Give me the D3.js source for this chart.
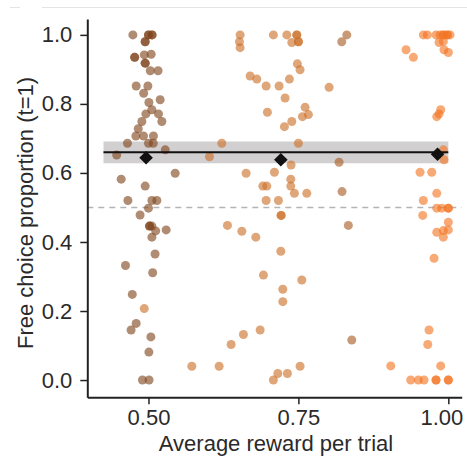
<!DOCTYPE html>
<html><head><meta charset="utf-8">
<script src="https://cdn.jsdelivr.net/npm/d3@7"></script>
<style>
html,body{margin:0;padding:0;background:#fff;}
svg{display:block;}
text{font-family:"Liberation Sans",Arial,Helvetica,sans-serif;}
</style></head>
<body>
<svg id="chart" width="467" height="457"></svg>
<script>
// ---- data ----
const xTicks = [0.50, 0.75, 1.00];
const yTicks = [0.0, 0.2, 0.4, 0.6, 0.8, 1.0];
const xLabel = "Average reward per trial";
const yLabel = "Free choice proportion (t=1)";

// brown points (around 0.50)
const brownX = [0.474,0.500,0.500,0.506,0.506,0.4945,0.4945,0.477,0.477,0.493,0.5045,0.4945,0.4945,0.503,0.516,0.4795,0.499,0.492,0.5195,0.5007,0.5057,0.4957,0.5167,0.489,0.5223,0.483,0.479,0.4917,0.5083,0.465,0.500,0.508,0.447,0.528,0.4545,0.4945,0.5445,0.4657,0.5057,0.514,0.500,0.486,0.5017,0.5017,0.5057,0.512,0.5295,0.5057,0.511,0.4617,0.507,0.473,0.4795,0.471,0.504,0.5007,0.490,0.501];
const brownY = [1.0,1.0,1.0,1.0,1.0,0.98,0.98,0.935,0.935,0.942,0.944,0.918,0.918,0.896,0.896,0.852,0.852,0.831,0.812,0.804,0.783,0.771,0.771,0.749,0.749,0.728,0.707,0.707,0.707,0.686,0.686,0.686,0.652,0.667,0.582,0.562,0.599,0.52,0.52,0.52,0.498,0.478,0.446,0.446,0.446,0.432,0.435,0.414,0.365,0.332,0.311,0.248,0.164,0.145,0.125,0.081,0.0,0.0];

// tan-orange points (mostly around 0.72)
const tanX = [0.6528,0.6517,0.6528,0.7083,0.7307,0.739,0.7473,0.7473,0.75,0.75,0.7483,0.7528,0.6695,0.6807,0.6962,0.7178,0.735,0.8012,0.7278,0.7612,0.7667,0.7567,0.6983,0.739,0.7267,0.6223,0.75,0.6017,0.7378,0.6628,0.71,0.7373,0.6907,0.6973,0.7373,0.7433,0.764,0.6962,0.7167,0.7212,0.7212,0.6317,0.6557,0.679,0.7207,0.6917,0.7557,0.724,0.724,0.6862,0.6583,0.6378,0.5723,0.6178,0.7528,0.7157,0.7317,0.7083,0.493];
const tanY = [1.0,0.98,0.963,1.0,1.0,0.978,1.0,1.0,0.98,0.98,0.916,0.899,0.881,0.872,0.852,0.852,0.872,0.848,0.817,0.79,0.769,0.763,0.776,0.749,0.734,0.686,0.686,0.647,0.623,0.599,0.602,0.582,0.562,0.562,0.562,0.541,0.541,0.52,0.52,0.477,0.477,0.448,0.431,0.414,0.373,0.304,0.29,0.263,0.227,0.145,0.132,0.103,0.04,0.04,0.04,0.019,0.019,0.0,0.207];

// brownish-orange points (around 0.82-0.84)
const rustX = [0.8307,0.8223,0.8178,0.8228,0.8333,0.839];
const rustY = [1.0,0.98,0.631,0.546,0.448,0.116];

// orange points (around 0.98)
const orangeX = [0.9583,0.965,0.9795,0.9862,0.9917,0.9917,0.9983,0.9983,1.0028,0.9845,0.9917,0.9295,0.9417,0.9928,1.0,0.9873,0.9845,0.9807,0.9917,0.9928,0.9528,0.9723,0.9807,0.9583,0.9807,0.989,1.0,1.0,0.9573,1.0,0.9807,0.9917,1.0,0.9917,0.9762,0.9678,0.9657,0.904,0.9873,0.9373,0.95,0.9595,0.9795,0.9795,1.0,1.0];
const orangeY = [1.0,1.0,1.0,1.0,1.0,1.0,1.0,1.0,1.0,0.978,0.981,0.957,0.935,0.957,0.949,0.783,0.771,0.763,0.667,0.638,0.602,0.602,0.541,0.52,0.498,0.498,0.498,0.498,0.477,0.457,0.428,0.433,0.435,0.414,0.353,0.145,0.103,0.041,0.041,0.0,0.0,0.0,0.0,0.0,0.0,0.0];

// group means (diamonds)
const meanX = [0.496, 0.7207, 0.982];
const meanY = [0.644, 0.638, 0.654];

// overall fit line with confidence band
const fitX = [0.425, 1.0];
const fitY = [0.660, 0.660];
const fitLo = [0.628, 0.628];
const fitHi = [0.691, 0.691];

const chanceLevel = 0.5;

// ---- drawing ----
const svg = d3.select("#chart");
const W = 467, H = 457;
const m = {left: 87.3, right: 467 - 461.7, top: 19, bottom: 457 - 397.3};
const x = d3.scaleLinear().domain([0.398, 1.0223]).range([m.left, W - m.right]);
const y = d3.scaleLinear().domain([-0.05, 1.046]).range([H - m.bottom, m.top]);

// faint screenshot border line at top
svg.append("line").attr("x1", 42).attr("x2", W).attr("y1", 7.5).attr("y2", 7.5)
  .attr("stroke", "#e4e4e4").attr("stroke-width", 1);
svg.append("line").attr("x1", 10).attr("x2", 20).attr("y1", 7.5).attr("y2", 7.5)
  .attr("stroke", "#e4e4e4").attr("stroke-width", 1);

// chance line
svg.append("line")
  .attr("x1", x.range()[0]).attr("x2", x.range()[1])
  .attr("y1", y(chanceLevel)).attr("y2", y(chanceLevel))
  .attr("stroke", "#b4b4b4").attr("stroke-width", 1.6).attr("stroke-dasharray", "6,5");

// confidence band
const bandData = fitX.map((d, i) => ({x: d, lo: fitLo[i], hi: fitHi[i]}));
svg.append("path").datum(bandData)
  .attr("d", d3.area().x(d => x(d.x)).y0(d => y(d.lo)).y1(d => y(d.hi)))
  .attr("fill", "#c9c7c7").attr("opacity", 0.85);

function pts(xs, ys, color) {
  svg.append("g").selectAll("circle").data(xs.map((d, i) => [d, ys[i]])).join("circle")
    .attr("cx", d => x(d[0])).attr("cy", d => y(d[1])).attr("r", 4.5)
    .attr("fill", color).attr("fill-opacity", 0.62);
}
pts(brownX, brownY, "#7f461d");
pts(tanX, tanY, "#cc7028");
pts(rustX, rustY, "#a85c24");
pts(orangeX, orangeY, "#f27522");

// fit line
svg.append("path").datum(fitX.map((d, i) => [d, fitY[i]]))
  .attr("d", d3.line().x(d => x(d[0])).y(d => y(d[1])))
  .attr("stroke", "#111").attr("stroke-width", 2).attr("fill", "none");

// mean diamonds
svg.append("g").selectAll("path").data(meanX.map((d, i) => [d, meanY[i]])).join("path")
  .attr("transform", d => `translate(${x(d[0])},${y(d[1])}) rotate(45)`)
  .attr("d", "M-4.8,-4.8H4.8V4.8H-4.8Z")
  .attr("fill", "#111");

// axes
const yAxis = svg.append("g").attr("transform", `translate(${m.left},0)`)
  .call(d3.axisLeft(y).tickValues(yTicks).tickFormat(d3.format(".1f")).tickSize(7).tickPadding(8).tickSizeOuter(0));
const xAxis = svg.append("g").attr("transform", `translate(0,${H - m.bottom})`)
  .call(d3.axisBottom(x).tickValues(xTicks).tickFormat(d3.format(".2f")).tickSize(7).tickPadding(5).tickSizeOuter(0));
[yAxis, xAxis].forEach(a => {
  a.select(".domain").attr("stroke", "#222").attr("stroke-width", 2);
  a.selectAll(".tick line").attr("stroke", "#222").attr("stroke-width", 1.5);
  a.selectAll(".tick text").attr("fill", "#2a2a2a").style("font-size", "22px")
    .style("font-family", "'Liberation Sans', Arial, sans-serif");
});
// keep the last x tick label inside the frame, as in the reference
xAxis.selectAll(".tick text").filter(d => d === 1.0).attr("dx", -7);

// axis titles
svg.append("text").attr("x", 276).attr("y", 451)
  .attr("text-anchor", "middle").attr("fill", "#2a2a2a").style("font-size", "22px")
  .text(xLabel);
svg.append("text").attr("transform", `translate(33,${213}) rotate(-90)`)
  .attr("text-anchor", "middle").attr("fill", "#2a2a2a").style("font-size", "22px")
  .text(yLabel);
</script>
</body></html>
